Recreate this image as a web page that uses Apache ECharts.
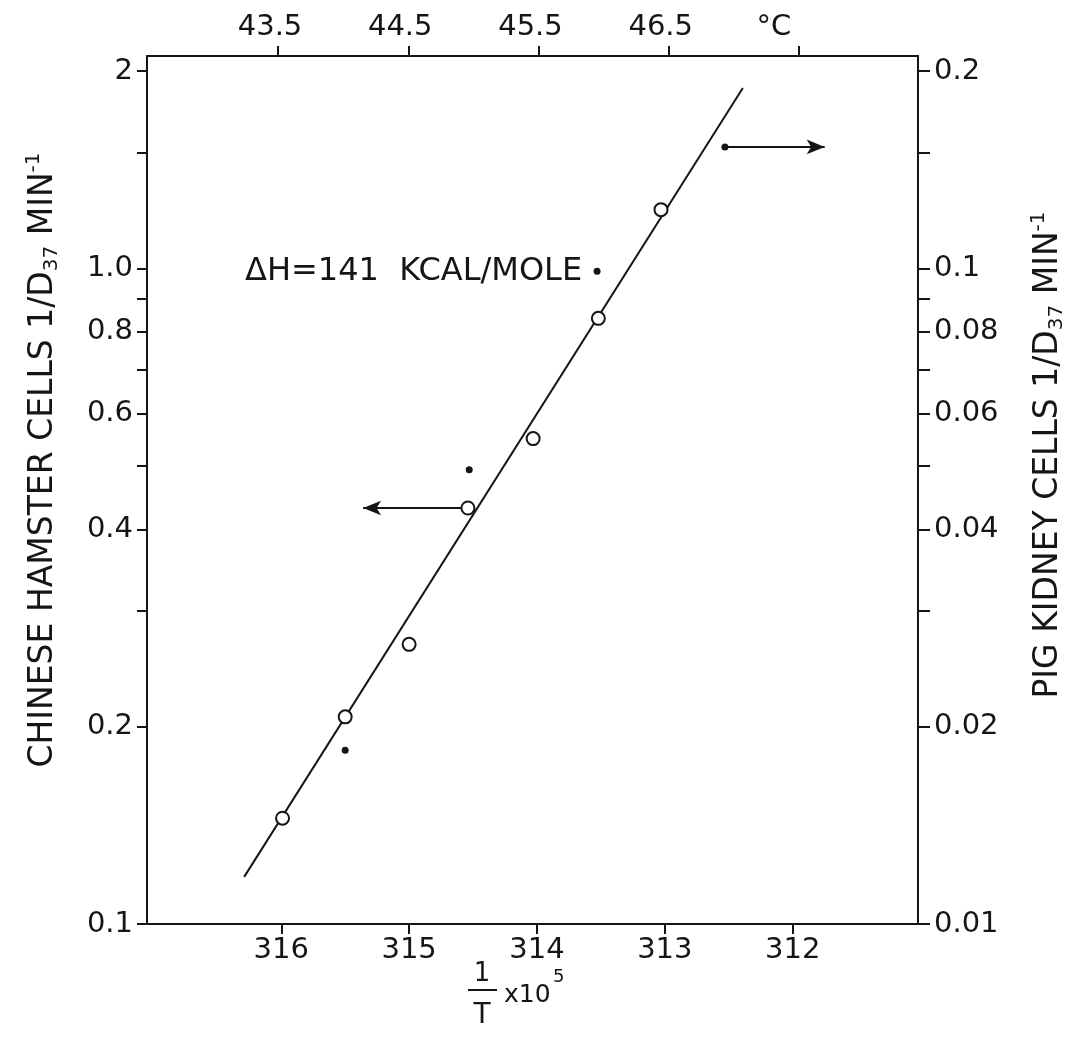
<!DOCTYPE html>
<html>
<head>
<meta charset="utf-8">
<script src="https://cdn.jsdelivr.net/npm/echarts@6/dist/echarts.min.js"></script>
<style>
html, body { margin: 0; padding: 0; background: #fff; }
#chart { width: 1079px; height: 1044px; }
</style>
</head>
<body>
<div id="chart"></div>
<script>
// ---- data ----
// Chinese hamster cells (open circles, left axis): x = 1/T x 10^5, y = 1/D37 (min^-1)
const hamsterX = [315.99, 315.50, 315.00, 314.54, 314.03, 313.52, 313.03];
const hamsterY = [0.145, 0.207, 0.267, 0.431, 0.550, 0.839, 1.229];
// Pig kidney cells (filled dots, right axis)
const pigX = [315.50, 314.53, 313.53, 312.53];
const pigY = [0.0184, 0.0493, 0.0990, 0.1532];
// fitted line (left axis units)
const fitX = [316.29, 312.39];
const fitY = [0.118, 1.884];
// arrows showing which axis applies
const leftArrowX = [314.59, 315.36];
const leftArrowY = 0.431;
const rightArrowX = [312.53, 311.75];
const rightArrowY = 0.1532;

// axis ticks & labels
const bottomTicks = [312, 313, 314, 315, 316];
const topTicks = [43.5, 44.5, 45.5, 46.5, 47.5];
const topLabels = ['43.5', '44.5', '45.5', '46.5', '°C'];
const leftTickValues = [0.1, 0.2, 0.3, 0.4, 0.5, 0.6, 0.7, 0.8, 0.9, 1, 1.5, 2];
const leftLabelValues = [0.1, 0.2, 0.4, 0.6, 0.8, 1, 2];
const leftLabels = ['0.1', '0.2', '0.4', '0.6', '0.8', '1.0', '2'];
const rightTickValues = [0.01, 0.02, 0.03, 0.04, 0.05, 0.06, 0.07, 0.08, 0.09, 0.1, 0.15, 0.2];
const rightLabelValues = [0.01, 0.02, 0.04, 0.06, 0.08, 0.1, 0.2];
const rightLabels = ['0.01', '0.02', '0.04', '0.06', '0.08', '0.1', '0.2'];

const annotation = 'ΔH=141  KCAL/MOLE';

// ---- chart ----
const INK = '#151515';
const FONT = '"DejaVu Sans", "Liberation Sans", Arial, sans-serif';

function lookup(values, labels) {
  return function (v) {
    for (let i = 0; i < values.length; i++) {
      if (Math.abs(values[i] - v) < 1e-6 * Math.max(1, Math.abs(v))) return labels[i];
    }
    return '';
  };
}

const axisLineStyle = { color: INK, width: 2 };
const labelStyle = { color: INK, fontFamily: FONT, fontSize: 29 };
const nameRich = {
  sub: { fontSize: 20, lineHeight: 19, verticalAlign: 'bottom', fontFamily: FONT, color: INK },
  sup: { fontSize: 20, lineHeight: 19, verticalAlign: 'top', fontFamily: FONT, color: INK }
};

const chart = echarts.init(document.getElementById('chart'), null, { renderer: 'canvas' });

const option = {
  animation: false,
  backgroundColor: '#fff',
  grid: { left: 147, right: 161, top: 56, bottom: 120, containLabel: false },
  xAxis: [
    {
      type: 'value', position: 'bottom', inverse: true,
      min: 311.02, max: 317.05,
      axisLine: { show: true, onZero: false, lineStyle: axisLineStyle },
      axisTick: { show: true, inside: false, length: 10, lineStyle: { color: INK, width: 2 }, customValues: bottomTicks },
      axisLabel: { show: true, margin: 12, customValues: bottomTicks, formatter: v => String(Math.round(v)), ...labelStyle },
      splitLine: { show: false }
    },
    {
      type: 'value', position: 'top',
      min: 42.494, max: 48.414,
      axisLine: { show: true, onZero: false, lineStyle: axisLineStyle },
      axisTick: { show: true, inside: false, length: 10, lineStyle: { color: INK, width: 2 }, customValues: topTicks },
      axisLabel: {
        show: true, margin: 14, customValues: topTicks,
        formatter: v => {
          const t = lookup(topTicks, topLabels)(v);
          return t === '°C' ? '{c|' + t + '}' : '{n|' + t + '}';
        },
        rich: {
          n: { fontFamily: FONT, fontSize: 29, color: INK, padding: [0, 16, 0, 0] },
          c: { fontFamily: FONT, fontSize: 29, color: INK, padding: [0, 50, 0, 0] }
        },
        ...labelStyle
      },
      splitLine: { show: false }
    }
  ],
  yAxis: [
    {
      type: 'log', logBase: 10, position: 'left',
      min: 0.1, max: 2.108,
      axisLine: { show: true, onZero: false, lineStyle: axisLineStyle },
      axisTick: { show: true, inside: false, length: 10, lineStyle: { color: INK, width: 2 }, customValues: leftTickValues },
      axisLabel: { show: true, margin: 14, customValues: leftLabelValues, formatter: lookup(leftLabelValues, leftLabels), ...labelStyle },
      splitLine: { show: false },
      name: 'CHINESE HAMSTER CELLS 1/D{sub|37} MIN{sup|-1}',
      nameLocation: 'middle', nameRotate: 90, nameGap: 85,
      nameTextStyle: { color: INK, fontFamily: FONT, fontSize: 33, lineHeight: 38, padding: [0, 0, 0, 60], rich: nameRich }
    },
    {
      type: 'log', logBase: 10, position: 'right',
      min: 0.01, max: 0.2108,
      axisLine: { show: true, onZero: false, lineStyle: axisLineStyle },
      axisTick: { show: true, inside: false, length: 12, lineStyle: { color: INK, width: 2 }, customValues: rightTickValues },
      axisLabel: { show: true, margin: 16, customValues: rightLabelValues, formatter: lookup(rightLabelValues, rightLabels), ...labelStyle },
      splitLine: { show: false },
      name: 'PIG KIDNEY CELLS 1/D{sub|37} MIN{sup|-1}',
      nameLocation: 'middle', nameRotate: 90, nameGap: 111,
      nameTextStyle: { color: INK, fontFamily: FONT, fontSize: 33, lineHeight: 38, padding: [0, 0, 0, 70], rich: nameRich }
    }
  ],
  series: [
    {
      name: 'fit', type: 'line', xAxisIndex: 0, yAxisIndex: 0,
      data: fitX.map((x, i) => [x, fitY[i]]),
      showSymbol: false, symbol: 'none',
      lineStyle: { color: INK, width: 2 }, z: 2, silent: true
    },
    {
      name: 'Chinese hamster', type: 'scatter', xAxisIndex: 0, yAxisIndex: 0,
      data: hamsterX.map((x, i) => [x, hamsterY[i]]),
      symbol: 'circle', symbolSize: 13,
      itemStyle: { color: '#fff', borderColor: INK, borderWidth: 2, opacity: 1 },
      z: 4,
      markLine: {
        silent: true, symbol: ['none', 'arrow'], symbolSize: [11, 18],
        lineStyle: { color: INK, width: 2, type: 'solid' },
        label: { show: false },
        data: [[{ coord: [leftArrowX[0], leftArrowY] }, { coord: [leftArrowX[1], leftArrowY] }]]
      }
    },
    {
      name: 'Pig kidney', type: 'scatter', xAxisIndex: 0, yAxisIndex: 1,
      data: pigX.map((x, i) => [x, pigY[i]]),
      symbol: 'circle', symbolSize: 7,
      itemStyle: { color: INK, opacity: 1 },
      z: 4,
      markLine: {
        silent: true, symbol: ['none', 'arrow'], symbolSize: [11, 18],
        lineStyle: { color: INK, width: 2, type: 'solid' },
        label: { show: false },
        data: [[{ coord: [rightArrowX[0], rightArrowY] }, { coord: [rightArrowX[1], rightArrowY] }]]
      }
    }
  ],
  graphic: [
    {
      type: 'text', left: 245, top: 256,
      style: { text: annotation, fill: INK, font: '32px "DejaVu Sans", Arial, sans-serif' }
    },
    {
      type: 'text', x: 482, y: 974,
      style: { text: '1', fill: INK, font: '26px "DejaVu Sans", Arial, sans-serif', align: 'center', verticalAlign: 'middle' }
    },
    {
      type: 'line', shape: { x1: 468, y1: 990, x2: 497, y2: 990 },
      style: { stroke: INK, lineWidth: 2 }
    },
    {
      type: 'text', x: 482, y: 1016,
      style: { text: 'T', fill: INK, font: '28px "DejaVu Sans", Arial, sans-serif', align: 'center', verticalAlign: 'middle' }
    },
    {
      type: 'text', x: 504, y: 995,
      style: { text: 'x10', fill: INK, font: '25px "DejaVu Sans", Arial, sans-serif', align: 'left', verticalAlign: 'middle' }
    },
    {
      type: 'text', x: 553, y: 977,
      style: { text: '5', fill: INK, font: '18px "DejaVu Sans", Arial, sans-serif', align: 'left', verticalAlign: 'middle' }
    }
  ]
};

chart.setOption(option);
</script>
</body>
</html>
